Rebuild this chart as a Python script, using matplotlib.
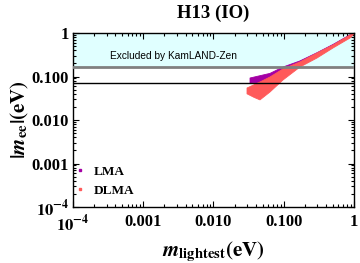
import matplotlib.pyplot as plt
from matplotlib.lines import Line2D

# outline of the LMA scatter region: m_lightest (eV), |m_ee| (eV)
lma_m_top = [0.0331, 0.0637, 0.0975, 0.170, 0.297, 0.502, 0.877, 1.0]
lma_ee_top = [0.0924, 0.118, 0.165, 0.228, 0.352, 0.545, 0.910, 1.0]
lma_m_bot = [1.0, 0.502, 0.170, 0.0975, 0.0541, 0.0331]
lma_ee_bot = [0.95, 0.50, 0.18, 0.11, 0.0748, 0.0709]

# outline of the DLMA scatter region
dlma_m_top = [0.0300, 0.0459, 0.0637, 0.0975, 0.170, 0.297, 0.502, 0.877, 1.0]
dlma_ee_top = [0.0544, 0.0748, 0.0974, 0.149, 0.216, 0.347, 0.530, 0.900, 1.0]
dlma_m_bot = [1.0, 0.877, 0.502, 0.297, 0.170, 0.0975, 0.0637, 0.0459, 0.0380, 0.0300]
dlma_ee_bot = [0.95, 0.767, 0.452, 0.266, 0.165, 0.0831, 0.044, 0.029, 0.033, 0.040]

kamland_limit = 0.165
sensitivity_line = 0.071

plt.rcParams['mathtext.fontset'] = 'stix'
serif = 'Liberation Serif'

fig = plt.figure(figsize=(3.6, 2.63), dpi=100)
ax = fig.add_axes([0.2028, 0.2129, 0.7805, 0.6616])

ax.set_xscale('log')
ax.set_yscale('log')
ax.set_xlim(1e-4, 1)
ax.set_ylim(1e-4, 1)

# excluded band
ax.axhspan(kamland_limit, 1, color='#e0ffff', zorder=0)
ax.axhline(kamland_limit, color='#808080', lw=2, zorder=3)
ax.axhline(sensitivity_line, color='black', lw=1, zorder=3)
ax.text(3.4e-4, 0.30, 'Excluded by KamLAND-Zen', fontsize=7.3,
        family='Liberation Sans', va='center')

purple = '#a400a4'
pink = '#ff5a5a'
ax.fill(lma_m_top + lma_m_bot, lma_ee_top + lma_ee_bot, color=purple, lw=0.6,
        ec=purple, zorder=2)
ax.fill(dlma_m_top + dlma_m_bot, dlma_ee_top + dlma_ee_bot, color=pink, lw=0.6,
        ec=pink, zorder=2.5)

ax.set_xticks([1e-4, 1e-3, 1e-2, 1e-1, 1])
ax.set_xticklabels([r'$\mathbf{10^{-4}}$', '0.001', '0.010', '0.100', '1'])
ax.set_yticks([1e-4, 1e-3, 1e-2, 1e-1, 1])
ax.set_yticklabels([r'$\mathbf{10^{-4}}$', '0.001', '0.010', '0.100', '1'])
for lab in ax.get_xticklabels() + ax.get_yticklabels():
    lab.set_fontfamily(serif)
    lab.set_fontweight('bold')
    lab.set_fontsize(12)
ax.tick_params(which='both', direction='in', top=True, right=True, width=0.8)
ax.tick_params(which='major', length=4, pad=3)
ax.tick_params(axis='x', which='major', pad=5)
ax.tick_params(which='minor', length=2)
for s in ax.spines.values():
    s.set_linewidth(1)

ax.set_title('H13 (IO)', fontsize=13.5, fontfamily=serif, fontweight='bold', pad=11)
ax.set_xlabel(r'$\mathbfit{m}_{\mathbf{lightest}}\mathbf{(eV)}$', fontsize=15, labelpad=3)
ax.set_ylabel(r'$\mathbf{|}\mathbfit{m}_{\mathbf{ee}}\mathbf{|(eV)}$', fontsize=15, labelpad=0)

handles = [Line2D([], [], ls='', marker='s', ms=2, color=purple),
           Line2D([], [], ls='', marker='s', ms=2, color=pink)]
ax.legend(handles, ['LMA', 'DLMA'], loc='lower left', bbox_to_anchor=(-0.035, -0.01),
          frameon=False, handlelength=0.8, handletextpad=0.6, labelspacing=0.5,
          prop={'family': serif, 'weight': 'bold', 'size': 9.5})

fig.savefig('out.png', dpi=100)
